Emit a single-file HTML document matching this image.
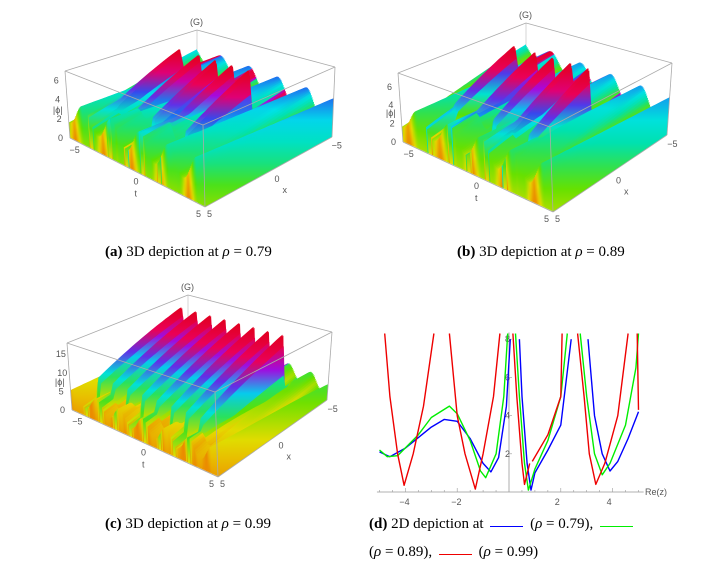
<!DOCTYPE html>
<html><head><meta charset="utf-8">
<style>
body{margin:0;background:#fff;width:704px;height:572px;overflow:hidden;position:relative;font-family:"Liberation Serif",serif;}
.cap{position:absolute;font-size:15px;color:#000;white-space:nowrap;}
.ln{display:inline-block;width:33px;height:1.5px;vertical-align:1px;margin:0 3px;}
svg text{font-family:"Liberation Sans",sans-serif;fill:#555;font-size:9px;}
</style></head><body>
<svg id="s" width="704" height="572" style="position:absolute;left:0;top:0"><defs id="defs"></defs></svg>
<div class="cap" style="left:105px;top:244px"><b>(a)</b> 3D depiction at <i>ρ</i> = 0.79</div>
<div class="cap" style="left:457px;top:244px"><b>(b)</b> 3D depiction at <i>ρ</i> = 0.89</div>
<div class="cap" style="left:105px;top:516px"><b>(c)</b> 3D depiction at <i>ρ</i> = 0.99</div>
<div class="cap" style="left:369px;top:516px"><b>(d)</b> 2D depiction at <span class="ln" style="background:#00f"></span> (<i>ρ</i> = 0.79), <span class="ln" style="background:#0e0"></span></div>
<div class="cap" style="left:369px;top:544px">(<i>ρ</i> = 0.89), <span class="ln" style="background:#e00"></span> (<i>ρ</i> = 0.99)</div>
<script>
const wallsA=[0.34,0.46,0.58,0.70,0.84];
const wallsB=[0.32,0.44,0.56,0.68,0.82];
const wallsC=[0.20,0.30,0.40,0.50,0.60,0.70,0.80,0.90];
const blueX=[-5,-4.6,-4,-3,-2.5,-2,-1.5,-1,-0.7,-0.4,-0.1,0.05,null,0.4,0.5,0.7,0.85,1,1.5,2,2.4,null,3.05,3.3,3.6,3.9,4.2,4.6,5];
const blueY=[2.1,1.85,2.3,3.4,3.8,3.7,2.8,1.5,1.05,1.8,4.5,8,null,8,5,1.5,0.1,1,2.2,3.5,8,null,8,4,2,1.1,1.6,2.8,4.2];
const greenX=[-5,-4.7,-4.3,-3.5,-3,-2.3,-2,-1.5,-1.1,-0.9,-0.5,-0.2,-0.05,null,0.25,0.4,0.6,0.75,1,1.5,2,2.25,null,2.75,3,3.3,3.6,3.9,4.5,4.9,5];
const greenY=[2.2,1.85,1.9,3,3.9,4.5,4.1,2.7,1.1,0.75,2,5,8.3,null,8.3,5,1.5,0.1,1.2,2.7,5,8.3,null,8.3,5,2,0.9,1.5,3.5,6.5,8.3];
const redX=[-4.8,-4.6,-4.3,-4.05,-3.7,-3.3,-2.9,null,-2.3,-2,-1.7,-1.3,-1,-0.6,-0.35,null,0.15,0.3,0.5,0.6,0.8,null,0.9,1.5,2,2.05,null,2.65,2.9,3.1,3.35,3.7,4.2,4.6,null,4.95,5];
const redY=[8.3,5,2,0.35,2,4.5,8.3,null,8.3,4,2,0.15,2,5,8.3,null,8.3,5,1.5,0.4,1.5,null,1.6,3,5,8.3,null,8.3,5,2,0.4,1.5,4,8.3,null,8.3,4.3];
const xTicks=[-4,-2,2,4], yTicks=[2,4,6,8];

const S=document.getElementById('s');const D=document.getElementById('defs');const NS='http://www.w3.org/2000/svg';
function mk(t,a,p){const e=document.createElementNS(NS,t);for(const k in a)e.setAttribute(k,a[k]);(p||S).appendChild(e);return e;}
function col(h){const st=[[0,[235,140,0]],[0.15,[230,220,0]],[0.3,[90,225,0]],[0.42,[0,225,170]],[0.52,[0,225,235]],[0.62,[40,80,240]],[0.72,[180,0,220]],[0.82,[235,0,90]],[1,[225,0,30]]];
 h=Math.max(0,Math.min(1,h));for(let i=1;i<st.length;i++){if(h<=st[i][0]){const f=(h-st[i-1][0])/(st[i][0]-st[i-1][0]);const a=st[i-1][1],b=st[i][1];return 'rgb('+a.map((v,j)=>Math.round(v+(b[j]-v)*f)).join(',')+')';}}return 'rgb(225,0,30)';}
let gid=0;
function grad(hTop,span){const id='g'+(gid++);const lg=mk('linearGradient',{id:id,x1:0,y1:0,x2:0,y2:1},D);
 const n=5;for(let k=0;k<=n;k++){const f=k/n;mk('stop',{offset:f,'stop-color':col(hTop-span*f)},lg);}return 'url(#'+id+')';}
function panel(id,B,walls,wave,zt,zl,wb,span,ww){
 const g=mk('g',{});
 const BB=B.BB;
 const bil=(a,b,k,c)=>(1-a)*(1-b)*B[k[0]][c]+a*(1-b)*B[k[1]][c]+(1-a)*b*B[k[2]][c]+a*b*B[k[3]][c];
 const P=(a,b,h)=>{const kb=['BF','BL','BR','BB'],kv=['VF','VL','VR','VB'];return [bil(a,b,kb,0)+h*bil(a,b,kv,0),bil(a,b,kb,1)+h*bil(a,b,kv,1)];};
 const TL=P(1,0,1),TF=P(0,0,1),TR=P(0,1,1),TC=P(1,1,1);
 const Lb=(p,q,c)=>mk('line',{x1:p[0],y1:p[1],x2:q[0],y2:q[1],stroke:c||'#aaa','stroke-width':0.8},g);
 Lb(B.BL,BB,'#ccc');Lb(BB,B.BR,'#ccc');Lb(BB,TC,'#ccc');
 const H=(a,b)=>{let h=wave[0]+wave[1]*Math.sin(a*wave[2]+b*wave[3]);
  for(const w of walls){const d=(a-w)/ww;if(b>wb[0]&&b<wb[1]){const top=wave[4]+(1.02-wave[4])*(b-wb[0])/(wb[1]-wb[0]);
    const e=Math.exp(-d*d*d*d);h=Math.max(h*(1-0.6*Math.exp(-Math.pow((a-w+ww*2.2)/ww,2))),top*e);}}return h;};
 const N=170,M=40;
 for(let i=N;i>=0;i--){const a=i/N;const top=[],bot=[];let hmax=0;
  for(let j=0;j<=M;j++){const b=j/M;const h=H(a,b);hmax=Math.max(hmax,h);top.push(P(a,b,h));bot.push(P(a,b,0.0));}
  const pts=top.concat(bot.reverse());
  const hh=Math.min(1,hmax*1.05);
  mk('polygon',{points:pts.map(p=>p[0].toFixed(1)+','+p[1].toFixed(1)).join(' '),fill:grad(hh,hh>0.75?0.85:span),stroke:'none'},g);
 }
 Lb(B.BL,B.BF);Lb(B.BF,B.BR);Lb(B.BL,TL);Lb(B.BR,TR);Lb(B.BF,TF);Lb(TL,TC);Lb(TC,TR);Lb(TL,TF);Lb(TF,TR);
 const T=(x,y,s,fs)=>{const t=mk('text',{x:x,y:y,'font-size':fs||9},g);t.textContent=s;return t;};
 for(let k=0;k<zt.length;k++){const p=P(1,0,zt[k]/zl);T(p[0]-12,p[1]+3,zt[k]);}
 const m=P(1,0,0.42);T(m[0]-15,m[1]+3,'|ϕ|',8);
 const t1=P(0.93,0,0);T(t1[0]-10,t1[1]+10,'−5');const t0=P(0.5,0,0);T(t0[0]-4,t0[1]+12,'0');T(t0[0]-3,t0[1]+24,'t');T(B.BF[0]-9,B.BF[1]+10,'5');
 T(B.BF[0]+2,B.BF[1]+10,'5');const x0=P(0,0.5,0);T(x0[0]+6,x0[1]+10,'0');T(x0[0]+14,x0[1]+21,'x');const x1=P(0,0.95,0);T(x1[0]+6,x1[1]+8,'−5');
 T(TC[0]-7,TC[1]-5,'(G)',10);
}
panel('surface-plot-a',{BL:[70,138],BF:[205,207],BR:[332,137],BB:[197,68],VF:[-2,-82],VL:[-5,-67],VR:[3,-70],VB:[0,-38]},wallsA,[0.4,0.17,30,2,0.5],[0,2,4,6],7,[0.22,0.72],0.35,0.02);
panel('surface-plot-b',{BL:[403,142],BF:[553,212],BR:[667,135],BB:[526,63],VF:[-3,-85],VL:[-5,-69],VR:[5,-72],VB:[0,-40]},wallsB,[0.38,0.16,30,2,0.5],[0,2,4,6],7.5,[0.22,0.72],0.35,0.02);
panel('surface-plot-c',{BL:[72,410],BF:[218,477],BR:[327,400],BB:[188,338],VF:[-3,-85],VL:[-5,-67],VR:[5,-68],VB:[0,-43]},wallsC,[0.22,0.1,40,3,0.45],[0,5,10,15],18,[0.12,0.85],0.3,0.018);

const gx=v=>509+v*25.9, gy=v=>492-v*19.1;
const gd=mk('g',{});
mk('line',{x1:gx(-5.1),y1:gy(0),x2:gx(5.2),y2:gy(0),stroke:'#999','stroke-width':0.8},gd);
mk('line',{x1:gx(0),y1:gy(0),x2:gx(0),y2:gy(8.35),stroke:'#999','stroke-width':0.8},gd);
for(let v=-5;v<=5;v+=0.5){if(!v)continue;mk('line',{x1:gx(v),y1:gy(0),x2:gx(v),y2:gy(0)-(v%2===0?4:2),stroke:'#999','stroke-width':0.6},gd);}
for(const v of xTicks){const t=mk('text',{x:gx(v)-6,y:gy(0)+13},gd);t.textContent=v<0?'−'+(-v):v;}
for(const v of yTicks){const t=mk('text',{x:gx(0)-4,y:gy(v)+3},gd);t.textContent=v;mk('line',{x1:gx(0),y1:gy(v),x2:gx(0)+3,y2:gy(v),stroke:'#999','stroke-width':0.6},gd);}
const rl=mk('text',{x:gx(5.25),y:gy(0)+3},gd);rl.textContent='Re(z)';
function curve(X,Y,c,name){let d='',pen=false;for(let i=0;i<X.length;i++){if(X[i]===null){pen=false;continue;}d+=(pen?'L':'M')+gx(X[i]).toFixed(1)+','+gy(Y[i]).toFixed(1);pen=true;}
 const p=mk('path',{d:d,fill:'none',stroke:c,'stroke-width':1.4,'stroke-linejoin':'round'},gd);}
curve(blueX,blueY,'#00f','series-rho-0-79');
curve(greenX,greenY,'#0e0','series-rho-0-89');
curve(redX,redY,'#e00','series-rho-0-99');
</script>
</body></html>
